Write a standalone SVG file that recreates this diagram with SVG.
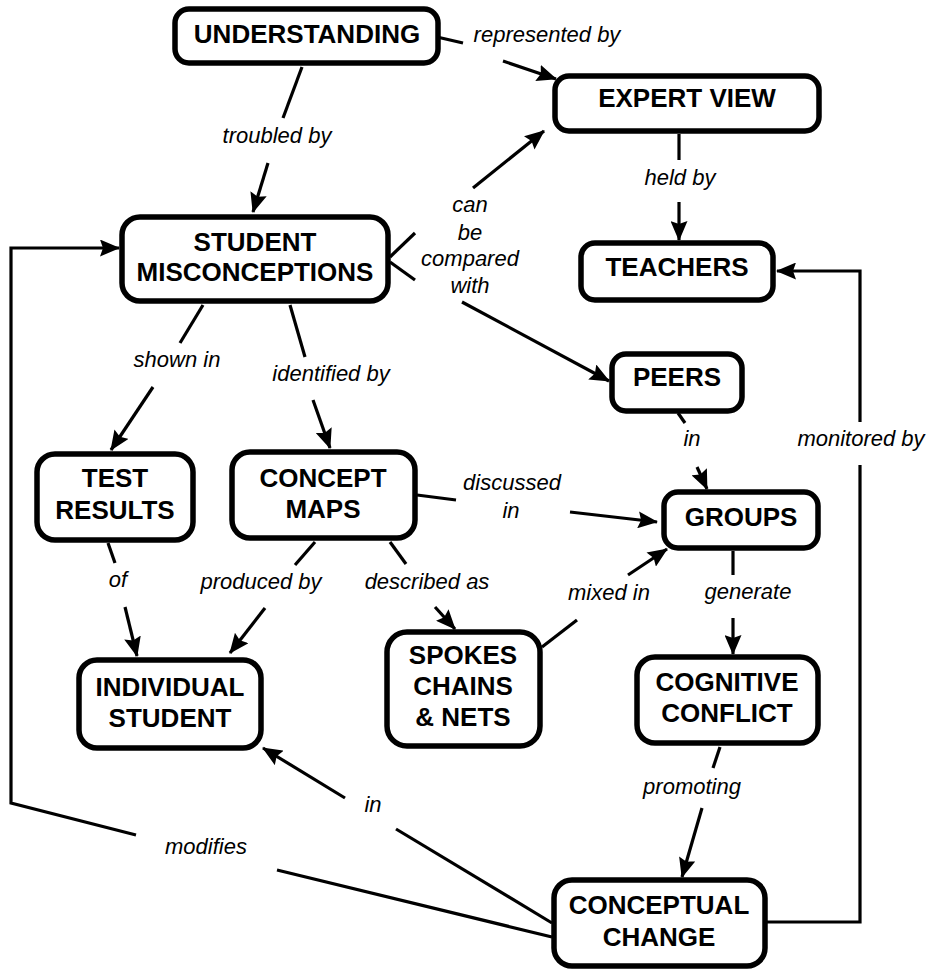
<svg xmlns="http://www.w3.org/2000/svg" width="938" height="971" viewBox="0 0 938 971">
<defs>
<marker id="ah" viewBox="0 0 20 17" refX="19" refY="8.5" markerWidth="20" markerHeight="17" orient="auto" markerUnits="userSpaceOnUse">
<path d="M0,0 L20,8.5 L0,17 L3,8.5 Z" fill="#000"/>
</marker>
<style>
.box{fill:#fff;stroke:#000;stroke-width:5.5}
.nt{font-family:"Liberation Sans",Arial,sans-serif;font-weight:bold;font-size:26px;text-anchor:middle;fill:#000}
.lt{font-family:"Liberation Sans",Arial,sans-serif;font-style:italic;font-size:22px;text-anchor:middle;fill:#000}
.c{fill:none;stroke:#000;stroke-width:3.2}
.a{marker-end:url(#ah)}
</style>
</defs>
<rect width="938" height="971" fill="#fff"/>
<g id="connectors">
<line class="c" x1="302" y1="67" x2="283" y2="118"/>
<line class="c a" x1="268" y1="163" x2="253" y2="212"/>
<line class="c" x1="437" y1="37" x2="463" y2="43"/>
<line class="c a" x1="503" y1="61" x2="556" y2="79"/>
<line class="c" x1="390" y1="257" x2="415" y2="233"/>
<line class="c" x1="390" y1="262" x2="415" y2="280"/>
<line class="c a" x1="473" y1="188" x2="544" y2="131"/>
<line class="c a" x1="462" y1="302" x2="609" y2="381"/>
<line class="c" x1="679" y1="134" x2="679" y2="160"/>
<line class="c a" x1="679" y1="202" x2="679" y2="240"/>
<line class="c" x1="203" y1="305" x2="180" y2="343"/>
<line class="c a" x1="153" y1="387" x2="111" y2="450"/>
<line class="c" x1="290" y1="305" x2="305" y2="357"/>
<line class="c a" x1="313" y1="400" x2="330" y2="448"/>
<line class="c" x1="108" y1="543" x2="115" y2="563"/>
<line class="c a" x1="125" y1="607" x2="137" y2="656"/>
<line class="c" x1="315" y1="542" x2="295" y2="565"/>
<line class="c a" x1="265" y1="608" x2="230" y2="653"/>
<line class="c" x1="390" y1="542" x2="406" y2="564"/>
<line class="c a" x1="435" y1="607" x2="455" y2="629"/>
<line class="c" x1="417" y1="495" x2="456" y2="500"/>
<line class="c a" x1="570" y1="512" x2="657" y2="522"/>
<line class="c" x1="678" y1="413" x2="685" y2="423"/>
<line class="c a" x1="697" y1="467" x2="707" y2="489"/>
<line class="c" x1="542" y1="647" x2="577" y2="620"/>
<line class="c a" x1="628" y1="575" x2="667" y2="549"/>
<line class="c" x1="733" y1="551" x2="733" y2="575"/>
<line class="c a" x1="733" y1="618" x2="733" y2="654"/>
<line class="c" x1="720" y1="747" x2="713" y2="768"/>
<line class="c a" x1="702" y1="808" x2="682" y2="877"/>
<line class="c" x1="552" y1="923" x2="396" y2="829"/>
<line class="c a" x1="345" y1="798" x2="263" y2="748"/>
<line class="c" x1="552" y1="937" x2="277" y2="870"/>
<polyline class="c a" points="136,835 11,803 11,248 119,248"/>
<polyline class="c" points="767,922 860,922 860,465"/>
<polyline class="c a" points="860,422 860,271 777,271"/>
</g>
<g id="labels">
<text class="lt" x="547" y="42">represented by</text>
<text class="lt" x="277" y="143">troubled by</text>
<text class="lt" x="470" y="212">can</text>
<text class="lt" x="470" y="240">be</text>
<text class="lt" x="470" y="266">compared</text>
<text class="lt" x="470" y="293">with</text>
<text class="lt" x="680" y="185">held by</text>
<text class="lt" x="177" y="367">shown in</text>
<text class="lt" x="331" y="381">identified by</text>
<text class="lt" x="118" y="587">of</text>
<text class="lt" x="261" y="589">produced by</text>
<text class="lt" x="427" y="589">described as</text>
<text class="lt" x="512" y="490">discussed</text>
<text class="lt" x="511" y="518">in</text>
<text class="lt" x="692" y="446">in</text>
<text class="lt" x="861" y="446">monitored by</text>
<text class="lt" x="609" y="600">mixed in</text>
<text class="lt" x="748" y="599">generate</text>
<text class="lt" x="692" y="794">promoting</text>
<text class="lt" x="373" y="812">in</text>
<text class="lt" x="206" y="854">modifies</text>
</g>
<g id="n-understanding"><rect class="box" x="175" y="9" width="263" height="54" rx="14"/><text class="nt" x="307" y="43">UNDERSTANDING</text></g>
<g id="n-expert-view"><rect class="box" x="555" y="76" width="264" height="55" rx="14"/><text class="nt" x="687" y="107">EXPERT VIEW</text></g>
<g id="n-student-misconceptions"><rect class="box" x="122" y="217" width="266" height="84" rx="18"/><text class="nt" x="255" y="251">STUDENT</text><text class="nt" x="255" y="281">MISCONCEPTIONS</text></g>
<g id="n-teachers"><rect class="box" x="581" y="243" width="192" height="57" rx="14"/><text class="nt" x="677" y="276">TEACHERS</text></g>
<g id="n-peers"><rect class="box" x="612" y="354" width="130" height="57" rx="14"/><text class="nt" x="677" y="386">PEERS</text></g>
<g id="n-test-results"><rect class="box" x="37" y="454" width="156" height="86" rx="18"/><text class="nt" x="115" y="487">TEST</text><text class="nt" x="115" y="519">RESULTS</text></g>
<g id="n-concept-maps"><rect class="box" x="232" y="452" width="183" height="86" rx="18"/><text class="nt" x="323" y="487">CONCEPT</text><text class="nt" x="323" y="518">MAPS</text></g>
<g id="n-groups"><rect class="box" x="664" y="492" width="154" height="56" rx="14"/><text class="nt" x="741" y="526">GROUPS</text></g>
<g id="n-individual-student"><rect class="box" x="79" y="660" width="182" height="88" rx="18"/><text class="nt" x="170" y="696">INDIVIDUAL</text><text class="nt" x="170" y="727">STUDENT</text></g>
<g id="n-spokes"><rect class="box" x="387" y="632" width="153" height="114" rx="20"/><text class="nt" x="463" y="664">SPOKES</text><text class="nt" x="463" y="695">CHAINS</text><text class="nt" x="463" y="726">&amp; NETS</text></g>
<g id="n-cognitive-conflict"><rect class="box" x="637" y="657" width="181" height="86" rx="18"/><text class="nt" x="727" y="691">COGNITIVE</text><text class="nt" x="727" y="722">CONFLICT</text></g>
<g id="n-conceptual-change"><rect class="box" x="554" y="880" width="211" height="86" rx="18"/><text class="nt" x="659" y="914">CONCEPTUAL</text><text class="nt" x="659" y="946">CHANGE</text></g>
</svg>
